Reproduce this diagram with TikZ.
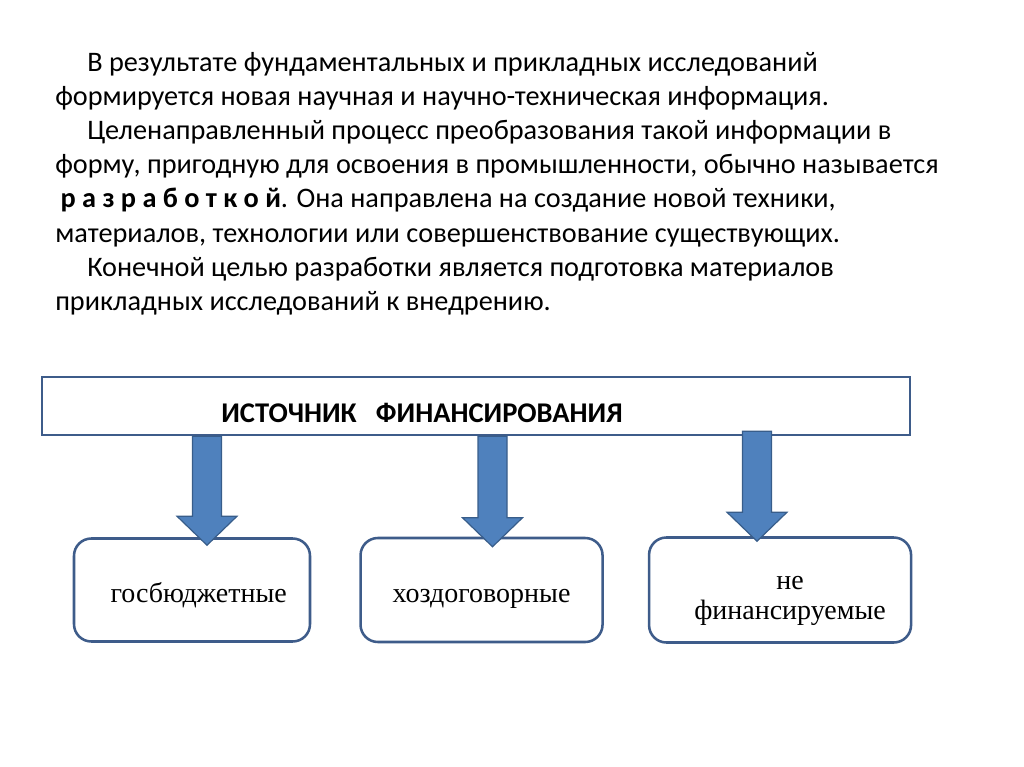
\documentclass[tikz,border=0pt]{standalone}
\usepackage{fontspec}
\setmainfont{Carlito}
\newfontfamily\boxfont{Liberation Serif}
\usetikzlibrary{positioning, calc}
\definecolor{framecol}{RGB}{62,92,138}
\definecolor{arrowfill}{RGB}{79,129,189}
\definecolor{arrowline}{RGB}{56,93,138}
\tikzset{
sourcebox/.style={draw=framecol, line width=1.8pt, fill=white, minimum width=651pt, minimum height=43.5pt, inner sep=0pt}, % the long box on top
kindbox/.style={draw=framecol, line width=1.9pt, rounded corners=13pt, fill=white, align=center, inner sep=0pt,
  font=\boxfont\fontsize{21}{22.5}\selectfont, execute at begin node={\rule{0pt}{24.75pt}}, execute at end node=\strut}, % the three kinds
blockarrow/.style={fill=arrowfill, draw=arrowline, line width=0.9pt, line join=miter}, % thick blue arrows
}
% block arrow pointing down: #1 = top of the shaft, #2 = where the tip goes
\newcommand{\blockdown}[2]{%
  \draw[blockarrow] ($(#1)+(-14.5,0)$) -- ($(#1)+(14.5,0)$) -- ($(#1 |- #2)+(14.5,-29)$)
    -- ($(#1 |- #2)+(30,-29)$) -- (#1 |- #2) -- ($(#1 |- #2)+(-30,-29)$) -- ($(#1 |- #2)+(-14.5,-29)$) -- cycle;}

\begin{document}
\begin{tikzpicture}[x=0.75pt, y=-0.75pt]
\useasboundingbox (0,0) rectangle (1024,767);

\node[anchor=north west, inner sep=0pt, align=left, font=\fontsize{21.2}{25.6}\selectfont] (intro) at (55,52) {%
\hspace*{24pt}В результате фундаментальных и прикладных исследований\\
формируется новая научная и научно-техническая информация.\\
\hspace*{24pt}Целенаправленный процесс преобразования такой информации в\\
форму, пригодную для освоения в промышленности, обычно называется\\
\hspace*{4pt}\textbf{р а з р а б о т к о й}. Она направлена на создание новой техники,\\
материалов, технологии или совершенствование существующих.\\
\hspace*{24pt}Конечной целью разработки является подготовка материалов\\
прикладных исследований к внедрению.};

\node[sourcebox] (src) at (476,406) {};
\node[font=\bfseries\fontsize{21.4}{24}\selectfont] (srctext) at (422,413) {ИСТОЧНИК\ \ \ ФИНАНСИРОВАНИЯ};

\node[kindbox, minimum width=177pt, minimum height=77.25pt] (b1) at (192,590) {\hspace*{10pt}госбюджетные};
\node[kindbox, minimum width=181.5pt, minimum height=78pt, right=36pt of b1] (b2) {хоздоговорные};
\node[kindbox, minimum width=196.5pt, minimum height=78.75pt, right=33pt of b2] (b3) {\rule{0pt}{29pt}\hspace*{15pt}не\\\hspace*{15pt}финансируемые};

\coordinate (a1top) at ($(src.south)+(-269,0)$);
\coordinate (a2top) at ($(src.south)+(16.5,0)$);
\coordinate (a3top) at ($(src.south)+(281,-5)$);
\coordinate (a1tip) at ($(b1.north)+(0,8)$);
\coordinate (a2tip) at ($(b2.north)+(0,10)$);
\coordinate (a3tip) at ($(b3.north)+(0,5)$);

\blockdown{a1top}{a1tip}
\blockdown{a2top}{a2tip}
\blockdown{a3top}{a3tip}
\end{tikzpicture}
\end{document}
